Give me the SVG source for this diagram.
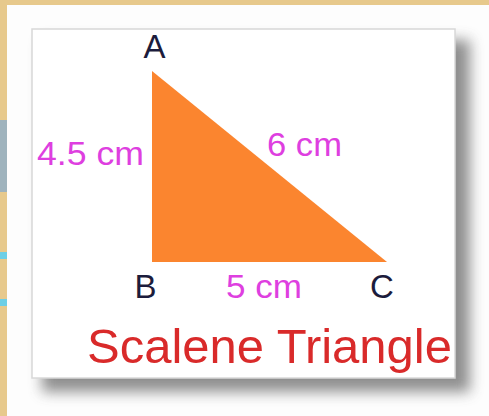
<svg xmlns="http://www.w3.org/2000/svg" width="489" height="416" viewBox="0 0 489 416">
  <defs>
    <filter id="shadow" x="-10%" y="-10%" width="130%" height="130%">
      <feGaussianBlur stdDeviation="7"/>
    </filter>
    <style>
      .lbl { font-family: "Liberation Sans", Arial, sans-serif; }
      .vtx { fill: #1c1c3c; font-size: 33px; }
      .len { fill: #de3fe0; font-size: 34px; }
      .ttl { fill: #d92a2a; font-size: 48px; }
    </style>
  </defs>
  <!-- background -->
  <rect x="0" y="0" width="489" height="416" fill="#e7c98c"/>
  <rect x="0" y="120" width="7" height="72" fill="#9fb3bd"/>
  <rect x="0" y="252" width="7" height="7" fill="#6dcfe6"/>
  <rect x="0" y="299" width="7" height="7" fill="#6dcfe6"/>
  <rect x="7" y="5" width="482" height="411" fill="#fdfdfd"/>
  <!-- card -->
  <g id="card">
    <rect x="42" y="40" width="428" height="352" fill="#555" opacity="0.65" filter="url(#shadow)"/>
    <rect x="32" y="29" width="423" height="349" fill="#ffffff" stroke="#d8d8d8" stroke-width="1.5"/>
  </g>
  <g id="triangle">
    <polygon points="152,71 152,262 387,262" fill="#fb852f"/>
  </g>
  <g id="vertex-A"><text class="lbl vtx" x="154.5" y="58" text-anchor="middle">A</text></g>
  <g id="vertex-B"><text class="lbl vtx" x="145.5" y="298" text-anchor="middle">B</text></g>
  <g id="vertex-C"><text class="lbl vtx" x="382" y="298" text-anchor="middle">C</text></g>
  <g id="side-AB"><text class="lbl len" x="37" y="165" textLength="107" lengthAdjust="spacingAndGlyphs">4.5 cm</text></g>
  <g id="side-AC"><text class="lbl len" x="267" y="156" textLength="75" lengthAdjust="spacingAndGlyphs">6 cm</text></g>
  <g id="side-BC"><text class="lbl len" x="226" y="298" textLength="76" lengthAdjust="spacingAndGlyphs">5 cm</text></g>
  <g id="title"><text class="lbl ttl" x="87" y="363" textLength="365" lengthAdjust="spacingAndGlyphs">Scalene Triangle</text></g>
</svg>
